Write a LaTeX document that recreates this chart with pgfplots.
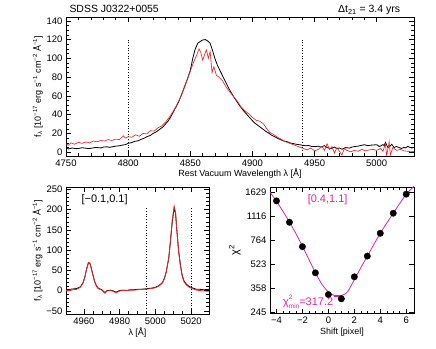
\documentclass[border=0pt]{standalone}
\usepackage{fontspec}
\setmainfont{Liberation Sans}
\usepackage{pgfplots}
\pgfplotsset{compat=1.18}

\definecolor{specred}{rgb}{0.95,0.12,0.12}
\definecolor{fitpink}{rgb}{0.93,0.12,0.58}

\pgfplotsset{
  idl/.style={
    scale only axis,
    anchor=south west,
    clip mode=individual,
    axis line style={line width=0.6pt},
    tick align=inside,
    xtick pos=both, ytick pos=both,
    xticklabel pos=lower, yticklabel pos=left,
    major tick length=5bp, minor tick length=3bp,
    every tick/.style={black, line width=0.5pt},
    tick label style={font=\fontsize{9.5}{10}\selectfont},
    label style={font=\fontsize{9}{10}\selectfont},
    /pgf/number format/assume math mode=true,
    /pgf/number format/1000 sep={},
  },
  vline/.style={black, dotted, line width=0.7pt, forget plot},
}

\begin{document}
\begin{tikzpicture}
\useasboundingbox (0,0) rectangle (436bp,349bp);

% ---------------- top panel: Hbeta ----------------
\begin{axis}[idl,
  at={(66bp,193bp)}, width=348bp, height=139bp,
  xmin=4750, xmax=5030, ymin=-4, ymax=144,
  xtick={4750,4800,...,5000}, minor x tick num=4,
  ytick={0,20,...,140}, minor y tick num=3,
  xlabel={Rest Vacuum Wavelength λ [Å]},
  ylabel={f\textsubscript{λ} [10\textsuperscript{−17} erg s\textsuperscript{−1} cm\textsuperscript{−2} Å\textsuperscript{−1}]},
  xlabel style={yshift=4bp},
  ylabel style={yshift=-3bp},
]
\addplot[vline] coordinates {(4800,-4) (4800,120)};
\addplot[vline] coordinates {(4940,-4) (4940,120)};
\addplot[black, line width=0.8pt] coordinates {
(4750,5.0) (4752,3.5) (4755,4.5) (4758,3.8) (4760,4.0) (4763,4.8) (4765,4.5) (4768,3.9)
(4770,4.2) (4773,4.9) (4775,5.0) (4778,4.6) (4780,5.5) (4783,5.8) (4785,5.2) (4788,6.0)
(4790,6.5) (4793,6.9) (4795,7.5) (4798,8.2) (4800,9.5) (4803,10.3) (4805,11.5) (4808,12.2)
(4810,13.5) (4813,15.0) (4815,16.5) (4818,18.0) (4820,20) (4823,22) (4825,24) (4828,27)
(4830,30) (4832,33) (4834,37) (4836,42) (4838,47) (4840,52) (4842,58) (4844,65)
(4846,72) (4848,79) (4850,87) (4852,100) (4854,110) (4856,116) (4858,118) (4860,119.5)
(4862,120) (4864,118.5) (4866,116) (4868,108) (4870,99) (4872,92) (4875,84) (4878,76)
(4881,68) (4884,61) (4887,55) (4890,49) (4893,44) (4896,39.5) (4899,35) (4902,31)
(4905,28) (4908,25) (4911,22) (4913,20.5) (4915,18.5) (4918,16.5) (4920,15) (4923,13.2)
(4925,12) (4928,11.2) (4930,10) (4933,9.2) (4935,8.5) (4938,8.0) (4940,7.5) (4943,6.9)
(4945,7.2) (4948,6.1) (4950,6) (4953,6.4) (4955,5.5) (4958,7) (4960,5) (4963,4)
(4966,5.5) (4968,3.8) (4970,4.5) (4972,3.2) (4975,5) (4978,4.4) (4980,5.5) (4983,6.2)
(4985,6.5) (4988,7.4) (4990,8) (4993,7.0) (4995,7.5) (4998,7.8) (5000,8) (5002,6.2)
(5003,6.5) (5005,8.2) (5006,7) (5007,10.5) (5009,5) (5011,6.8) (5012,8.5) (5014,5)
(5016,6.2) (5017,5.5) (5020,4) (5022,5.2) (5023,4.5) (5025,6.3) (5026,5.5) (5028,4.5) (5030,5)
};
\addplot[specred, line width=0.65pt] coordinates {
(4750,9) (4752,7.5) (4754,10) (4757,8.5) (4760,10.5) (4763,9.5) (4766,11) (4769,10)
(4772,12) (4775,11) (4778,12.5) (4781,12) (4784,13.5) (4787,12.5) (4790,14) (4793,13.5)
(4796,17.5) (4798,15) (4800,16.5) (4803,16) (4806,18.5) (4809,17) (4812,20) (4815,19.5)
(4818,23) (4821,22.5) (4824,26) (4827,28) (4830,32) (4833,37) (4836,43) (4839,50)
(4842,58) (4845,68) (4848,79) (4851,90) (4853,97) (4855,103) (4857,110) (4858.5,106)
(4860,98) (4861.5,104) (4863,109) (4864.5,100) (4866,107) (4867.5,85) (4869,91) (4871,82)
(4873,80) (4876,76) (4879,69) (4882,64) (4885,59) (4888,54) (4891,48) (4894,44)
(4897,41) (4900,37) (4903,34) (4906,33) (4909,30) (4911,26) (4914,21) (4917,19)
(4920,16) (4923,14) (4926,11.5) (4929,10) (4932,8.5) (4935,7) (4938,5.5) (4941,4)
(4944,2.5) (4947,4.5) (4950,1.5) (4953,3) (4956,6) (4958,2) (4960,9) (4962,3)
(4964,6) (4966,-1) (4968,5) (4970,1) (4972,-3) (4974,4) (4976,2) (4979,0.5)
(4982,2) (4985,1) (4988,3) (4991,1.5) (4994,2.5) (4997,3) (5000,2) (5003,4)
(5005,1) (5007,9) (5008,-4) (5010,11) (5011,-3) (5013,5) (5016,2) (5019,3)
(5022,1.5) (5025,1) (5028,0.5) (5030,1)
};
\node[anchor=base west, font=\fontsize{10.5}{11}\selectfont] at ([yshift=4bp]rel axis cs:0,1) {SDSS J0322+0055};
\node[anchor=base east, font=\fontsize{10.5}{11}\selectfont] at ([yshift=4bp]rel axis cs:0.97,1) {Δt\textsubscript{21} = 3.4 yrs};
\end{axis}

% ---------------- bottom left: [OIII] ----------------
\begin{axis}[idl,
  at={(66bp,35bp)}, width=143bp, height=127bp,
  xmin=4950, xmax=5030, ymin=-58, ymax=256,
  xtick={4960,4980,5000,5020}, minor x tick num=3,
  ytick={-50,0,...,250}, minor y tick num=4,
  yticklabels={−50,0,50,100,150,200,250},
  xlabel={λ [Å]},
  ylabel={f\textsubscript{λ} [10\textsuperscript{−17} erg s\textsuperscript{−1} cm\textsuperscript{−2} Å\textsuperscript{−1}]},
  xlabel style={yshift=3bp},
  ylabel style={yshift=-3bp},
]
\addplot[vline] coordinates {(4995,-58) (4995,205)};
\addplot[vline] coordinates {(5020,-58) (5020,205)};
\addplot[black, line width=0.8pt] coordinates {
(4950,2) (4952,3) (4954,4) (4956,5) (4958,9) (4959.5,19) (4960.5,33) (4961.5,53)
(4962.5,68) (4963.3,68) (4964,58) (4965,40) (4966,23) (4967,12) (4968,6) (4970,2)
(4971.8,-5) (4973,0) (4975,1) (4976.5,-1) (4978,-4) (4980,0) (4982,1) (4984,0)
(4986,2) (4988,2) (4990,3) (4992,3) (4994,4) (4996,5) (4998,6) (5000,8)
(5002,12) (5004,20) (5005,30) (5006,45) (5007.5,80) (5008.5,125) (5009.5,172) (5010.5,203)
(5011.3,190) (5012,150) (5013,98) (5014,64) (5015,38) (5016,24) (5017.5,15) (5019,10)
(5021,6) (5023,3) (5025,3) (5027,2) (5030,3)
};
\addplot[specred, line width=0.8pt] coordinates {
(4950,0) (4952,0) (4954,2) (4956,3) (4958,8) (4959.5,18) (4960.5,32) (4961.5,52)
(4962.5,69) (4963.3,68) (4964,57) (4965,39) (4966,22) (4967,11) (4968,5) (4970,1)
(4971.8,-7) (4973,-1) (4975,0) (4976.5,-2) (4978,-6) (4980,-1) (4982,0) (4984,0)
(4986,1) (4988,1) (4990,2) (4992,3) (4994,3) (4996,4) (4998,5) (5000,7)
(5002,11) (5004,19) (5005,29) (5006,44) (5007.5,80) (5008.5,127) (5009.5,176) (5010.5,209)
(5011.3,193) (5012,150) (5013,97) (5014,62) (5015,36) (5016,22) (5017.5,13) (5019,8)
(5021,4) (5023,1) (5025,0) (5027,-1) (5030,-2)
};
\node[font=\fontsize{11}{12}\selectfont] at (rel axis cs:0.27,0.9) {[−0.1,0.1]};
\end{axis}

% ---------------- bottom right: chi2 vs shift ----------------
\begin{axis}[idl,
  at={(270bp,35.5bp)}, width=144bp, height=126.5bp,
  ymode=log,
  xmin=-4.5, xmax=6.6, ymin=240, ymax=1780,
  xtick={-4,-2,...,6}, minor x tick num=3,
  xticklabels={−4,−2,0,2,4,6},
  ytick={245,358,523,764,1116,1629},
  yticklabels={245,358,523,764,1116,1629},
  yminorticks=false,
  xlabel={Shift [pixel]},
  ylabel={χ\textsuperscript{2}},
  xlabel style={yshift=3bp},
  ylabel style={font=\fontsize{11}{12}\selectfont, yshift=-2bp},
]
\addplot[fitpink, line width=0.8pt, smooth] coordinates {
(-4.5,1640) (-4,1420) (-3.5,1210) (-3,1020) (-2.5,850) (-2,695) (-1.5,565) (-1,458)
(-0.5,382) (0,336) (0.25,325) (0.5,319) (0.75,317.2) (1,319) (1.25,326) (1.5,340)
(2,410) (2.5,495) (3,595) (3.5,715) (4,855) (4.5,1005) (5,1175) (5.5,1370) (6,1585) (6.6,1800)
};
\addplot[fitpink, line width=1.3pt] coordinates {(0.4,317.2) (1.1,317.2)};
\addplot[only marks, mark=*, mark size=3.2bp, black] coordinates {
(-4,1429) (-3,1018) (-2,692) (-1,457) (0,324) (1,303) (2,429) (3,596) (4,855) (5,1175) (6,1589)
};
\node[fitpink, font=\fontsize{11}{12}\selectfont] at (rel axis cs:0.40,0.90) {[0.4,1.1]};
\node[fitpink, anchor=base west, font=\fontsize{11}{12}\selectfont, inner sep=0pt] at (rel axis cs:0.09,0.06)
  {χ\rlap{\raisebox{6bp}{\fontsize{6.5}{7}\selectfont 2}}\raisebox{-3bp}{\fontsize{6.5}{7}\selectfont min}=317.2};
\end{axis}
\end{tikzpicture}
\end{document}
